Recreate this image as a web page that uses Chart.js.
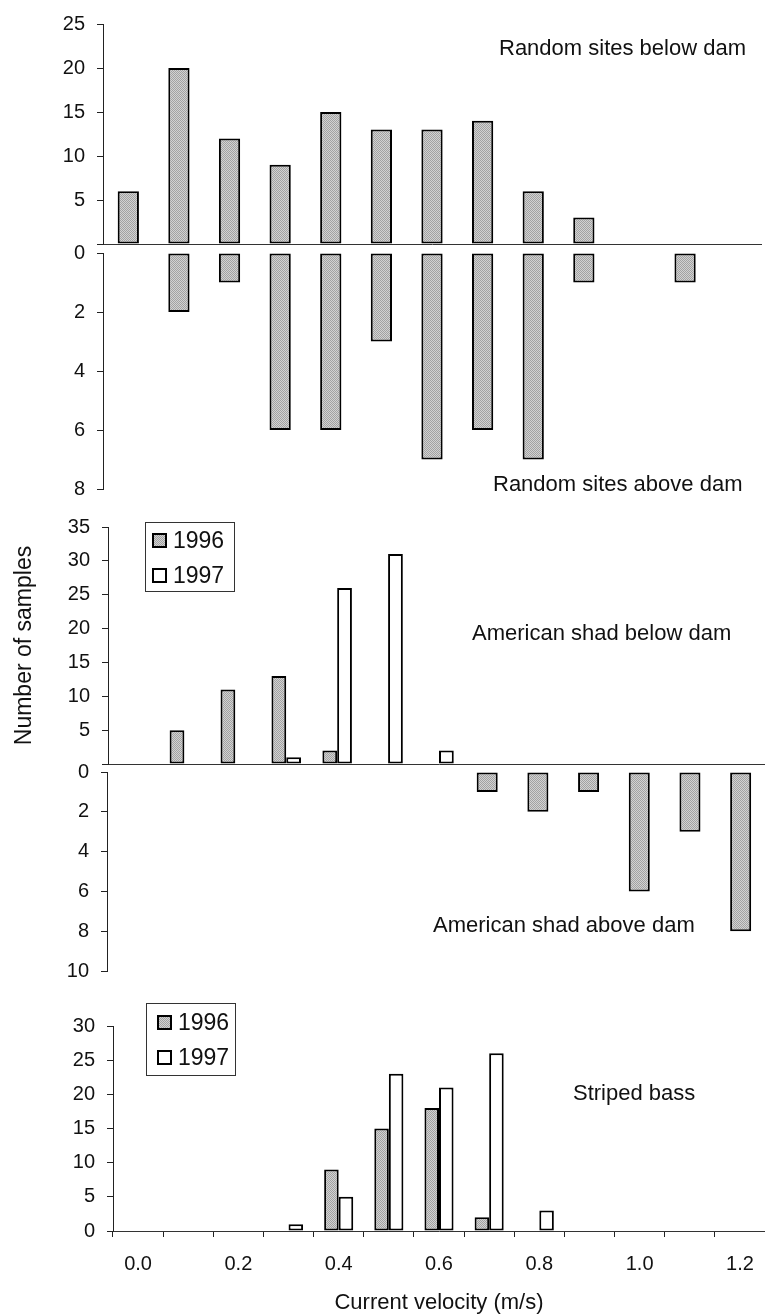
<!DOCTYPE html>
<html>
<head>
<meta charset="utf-8">
<script src="https://cdn.jsdelivr.net/npm/chart.js@4"></script>
<style>
  html, body { margin: 0; padding: 0; background: #fff; }
  #wrap { position: relative; width: 765px; height: 1316px; overflow: hidden; background: #fff; }
  #wrap canvas { position: absolute; left: 0; top: 0; }
</style>
</head>
<body>
<div id="wrap">
  <canvas id="c1" width="780" height="1316"></canvas>
  <canvas id="c2" width="780" height="1316"></canvas>
  <canvas id="c3" width="780" height="1316"></canvas>
  <canvas id="c4" width="780" height="1316"></canvas>
  <canvas id="c5" width="780" height="1316"></canvas>
</div>
<script>
// current velocity classes (m/s)
var categories = ['0.0','0.1','0.2','0.3','0.4','0.5','0.6','0.7','0.8','0.9','1.0','1.1','1.2'];
var shownXLabels = ['0.0','0.2','0.4','0.6','0.8','1.0','1.2'];

// number of samples per class
var randomBelowDam = [6, 20, 12, 9, 15, 13, 13, 14, 6, 3, 0, 0, 0];
var randomAboveDam = [0, 2, 1, 6, 6, 3, 7, 6, 7, 1, 0, 1, 0];
var shadBelow1996  = [0, 5, 11, 13, 2, 0, 0, 0, 0, 0, 0, 0, 0];
var shadBelow1997  = [0, 0, 0, 1, 26, 31, 2, 0, 0, 0, 0, 0, 0];
var shadAbove1996  = [0, 0, 0, 0, 0, 0, 0, 1, 2, 1, 6, 3, 8];
var bass1996       = [0, 0, 0, 0, 9, 15, 18, 2, 0, 0, 0, 0, 0];
var bass1997       = [0, 0, 0, 1, 5, 23, 21, 26, 3, 0, 0, 0, 0];

var FONT = '"Liberation Sans", Arial, Helvetica, sans-serif';
Chart.defaults.font.family = FONT;
Chart.defaults.color = '#111';

var W = 780, H = 1316;

function stipple(ctx) {
  var c = document.createElement('canvas');
  c.width = 2; c.height = 2;
  var g = c.getContext('2d');
  g.fillStyle = '#d2d2d2'; g.fillRect(0, 0, 2, 2);
  g.fillStyle = '#a2a2a2'; g.fillRect(0, 0, 1, 1); g.fillRect(1, 1, 1, 1);
  return ctx.createPattern(c, 'repeat');
}

// free text labels in the panels
var panelText = {
  id: 'panelText',
  afterDraw: function(chart, args, o) {
    var ctx = chart.ctx;
    ctx.save();
    ctx.font = '22px ' + FONT;
    ctx.fillStyle = '#111';
    ctx.textAlign = 'left';
    ctx.textBaseline = 'alphabetic';
    (o.items || []).forEach(function(it) { ctx.fillText(it.text, it.x, it.y); });
    ctx.restore();
  }
};

// boxed legend like the original figure
var boxLegend = {
  id: 'boxLegend',
  afterDraw: function(chart, args, o) {
    if (!o.show) return;
    var ctx = chart.ctx;
    ctx.save();
    ctx.lineWidth = 1;
    ctx.strokeStyle = '#333';
    ctx.strokeRect(o.x + 0.5, o.y + 0.5, o.w, o.h);
    ctx.font = '23px ' + FONT;
    ctx.textBaseline = 'alphabetic';
    chart.data.datasets.forEach(function(ds, i) {
      var by = o.y + o.first + i * o.rowH;
      ctx.fillStyle = ds.backgroundColor;
      ctx.fillRect(o.x + o.sq, by - 15, 15, 15);
      ctx.lineWidth = 2;
      ctx.strokeStyle = '#000';
      ctx.strokeRect(o.x + o.sq + 1, by - 14, 13, 13);
      ctx.fillStyle = '#111';
      ctx.fillText(ds.label, o.x + o.tx, by);
    });
    ctx.restore();
  }
};

function yAxis(max, step, axisX, extra) {
  var ax = {
    min: 0, max: max, reverse: false,
    ticks: { stepSize: step, padding: 12, font: { size: 20 }, color: '#111' },
    grid: { display: true, drawOnChartArea: false, drawTicks: true, tickLength: 6, color: '#222' },
    border: { display: true, color: '#222', width: 1 },
    afterFit: function(s) { s.width = axisX; }
  };
  for (var k in extra) ax[k] = extra[k];
  return ax;
}

function hideZero(v) { return v === 0 ? '' : v; }

function barSet(label, data, fill, pct) {
  return {
    label: label, data: data,
    backgroundColor: fill, borderColor: '#000', borderWidth: 2, borderSkipped: false,
    categoryPercentage: pct[0], barPercentage: pct[1]
  };
}

function makeChart(id, datasets, xAxis, yAx, pad, texts, legend) {
  return new Chart(document.getElementById(id), {
    type: 'bar',
    data: { labels: categories, datasets: datasets },
    options: {
      responsive: false,
      animation: false,
      events: [],
      layout: { padding: pad },
      plugins: {
        legend: { display: false },
        tooltip: { enabled: false },
        panelText: { items: texts },
        boxLegend: legend || { show: false }
      },
      scales: { x: xAxis, y: yAx }
    },
    plugins: [panelText, boxLegend]
  });
}

// zero line only, no ticks or labels
function zeroLineX() {
  return {
    display: true,
    grid: { display: false, drawTicks: false },
    ticks: { display: false },
    border: { display: true, color: '#333', width: 1 },
    afterFit: function(s) { s.height = 0; }
  };
}
function hiddenX() { return { display: false }; }

function ctxOf(id) { return document.getElementById(id).getContext('2d'); }

// Random sites below dam
makeChart('c1',
  [barSet('Random sites below dam', randomBelowDam, stipple(ctxOf('c1')), [1, 0.42])],
  zeroLineX(),
  yAxis(25, 5, 103, { ticks: { stepSize: 5, padding: 12, font: { size: 20 }, color: '#111', callback: hideZero } }),
  { left: 0, top: 17, right: W - 761, bottom: H - 244 },
  [{ text: 'Random sites below dam', x: 499, y: 55 }]
);

// Random sites above dam
makeChart('c2',
  [barSet('Random sites above dam', randomAboveDam, stipple(ctxOf('c2')), [1, 0.42])],
  hiddenX(),
  yAxis(8, 2, 103, { reverse: true }),
  { left: 0, top: 253, right: W - 761, bottom: H - 489 },
  [{ text: 'Random sites above dam', x: 493, y: 491 }]
);

// American shad below dam
makeChart('c3',
  [barSet('1996', shadBelow1996, stipple(ctxOf('c3')), [0.58, 1]),
   barSet('1997', shadBelow1997, '#ffffff', [0.58, 1])],
  zeroLineX(),
  yAxis(35, 5, 108, {
    ticks: { stepSize: 5, padding: 12, font: { size: 20 }, color: '#111', callback: hideZero },
    title: { display: true, text: 'Number of samples', font: { size: 23 }, color: '#111', padding: { top: 11, bottom: 0 } }
  }),
  { left: 0, top: 527, right: W - 770, bottom: H - 764 },
  [{ text: 'American shad below dam', x: 472, y: 640 }],
  { show: true, x: 145, y: 522, w: 89, h: 69, first: 26, rowH: 35, sq: 7, tx: 28 }
);

// American shad above dam
makeChart('c4',
  [barSet('1996', shadAbove1996, stipple(ctxOf('c4')), [1, 0.415])],
  hiddenX(),
  yAxis(10, 2, 107, { reverse: true }),
  { left: 0, top: 772, right: W - 766, bottom: H - 971 },
  [{ text: 'American shad above dam', x: 433, y: 932 }]
);

// Striped bass
makeChart('c5',
  [barSet('1996', bass1996, stipple(ctxOf('c5')), [0.58, 1]),
   barSet('1997', bass1997, '#ffffff', [0.58, 1])],
  {
    offset: true,
    grid: { display: true, offset: true, drawOnChartArea: false, drawTicks: true, tickLength: 6, color: '#222' },
    border: { display: true, color: '#333', width: 1 },
    ticks: {
      autoSkip: false, maxRotation: 0, padding: 15, font: { size: 20 }, color: '#111',
      callback: function(value) {
        var l = this.getLabelForValue(value);
        return shownXLabels.indexOf(l) >= 0 ? l : '';
      }
    },
    title: { display: true, text: 'Current velocity (m/s)', font: { size: 22 }, color: '#111', padding: { top: 0, bottom: 0 } },
    afterFit: function(s) { s.height = 85; }
  },
  yAxis(30, 5, 113, {}),
  { left: 0, top: 1026, right: W - 765, bottom: 0 },
  [{ text: 'Striped bass', x: 573, y: 1100 }],
  { show: true, x: 146, y: 1003, w: 89, h: 72, first: 27, rowH: 35, sq: 11, tx: 32 }
);
</script>
</body>
</html>
